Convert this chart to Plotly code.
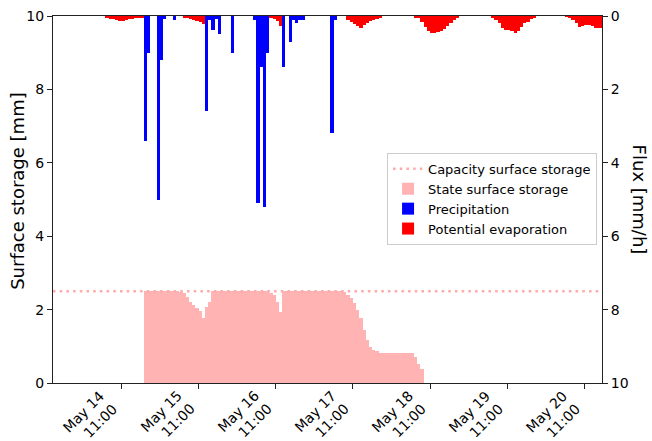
import pandas as pd
import plotly.graph_objects as go

# ---------------- data (hourly, starting 2019-05-13 14:00) ----------------
start_time = "2019-05-13 14:00"

# Precipitation [mm/h]
precip = [
    # May 13 14:00-23:00
    0, 0, 0, 0, 0, 0, 0, 0, 0, 0,
    # May 14
    0, 0, 0, 0, 0, 0, 0, 0, 0, 0, 0, 0,
    0, 0, 0, 0, 0, 0, 3.4, 1.0, 0, 0, 5.0, 1.2,
    # May 15
    0.08, 0, 0, 0.1, 0, 0, 0, 0, 0, 0, 0, 0,
    0, 2.6, 0.1, 0.38, 0.08, 0.49, 0, 0, 0, 1.0, 0, 0,
    # May 16
    0, 0, 0, 0, 0.1, 5.1, 1.4, 5.2, 1.0, 0, 0, 0,
    0, 1.4, 0, 0.7, 0.1, 0.2, 0.1, 0.1, 0, 0, 0, 0,
    # May 17
    0, 0, 0, 0, 3.2, 0.1, 0, 0, 0, 0, 0, 0,
    0, 0, 0, 0, 0, 0, 0, 0, 0, 0, 0, 0,
    # May 18
    0, 0, 0, 0, 0, 0, 0, 0, 0, 0, 0, 0,
    0, 0, 0, 0, 0, 0, 0, 0, 0, 0, 0, 0,
    # May 19
    0, 0, 0, 0, 0, 0, 0, 0, 0, 0, 0, 0,
    0, 0, 0, 0, 0, 0, 0, 0, 0, 0, 0, 0,
    # May 20 00:00-16:00
    0, 0, 0, 0, 0, 0, 0, 0, 0, 0, 0, 0,
    0, 0, 0, 0, 0,
]

# Potential evaporation [mm/h]
evap = [
    # May 13 14:00-23:00
    0, 0, 0, 0, 0, 0, 0, 0, 0, 0,
    # May 14
    0, 0, 0, 0, 0, 0, 0.04, 0.07, 0.08, 0.12, 0.13, 0.13,
    0.12, 0.09, 0.07, 0.05, 0.04, 0.03, 0, 0, 0, 0, 0, 0,
    # May 15
    0, 0, 0, 0, 0, 0, 0.03, 0.05, 0.07, 0.10, 0.13, 0.17,
    0.22, 0, 0, 0, 0, 0, 0, 0, 0, 0, 0, 0,
    # May 16
    0, 0, 0, 0, 0, 0, 0, 0, 0, 0.05, 0.08, 0.14,
    0.27, 0, 0, 0, 0, 0, 0, 0, 0, 0, 0, 0,
    # May 17
    0, 0, 0, 0, 0, 0, 0, 0, 0, 0.10, 0.15, 0.22,
    0.26, 0.34, 0.25, 0.19, 0.14, 0.10, 0.07, 0.04, 0, 0, 0, 0,
    # May 18
    0, 0, 0, 0, 0, 0, 0.04, 0.06, 0.15, 0.30, 0.42, 0.45,
    0.45, 0.44, 0.40, 0.36, 0.27, 0.18, 0.10, 0.04, 0, 0, 0, 0,
    # May 19
    0, 0, 0, 0, 0, 0, 0.05, 0.12, 0.20, 0.33, 0.38, 0.39,
    0.41, 0.45, 0.42, 0.30, 0.20, 0.15, 0.07, 0.03, 0, 0, 0, 0,
    # May 20 00:00-16:00
    0, 0, 0, 0, 0, 0.02, 0.05, 0.12, 0.20, 0.31, 0.27, 0.25,
    0.24, 0.28, 0.33, 0.34, 0.33,
]

# State surface storage [mm]
storage = [
    # May 13 14:00-23:00
    0, 0, 0, 0, 0, 0, 0, 0, 0, 0,
    # May 14
    0, 0, 0, 0, 0, 0, 0, 0, 0, 0, 0, 0,
    0, 0, 0, 0, 0, 0, 2.5, 2.5, 2.5, 2.5, 2.5, 2.5,
    # May 15
    2.5, 2.5, 2.5, 2.5, 2.5, 2.47, 2.44, 2.35, 2.22, 2.13, 2.04, 1.95,
    1.76, 2.08, 2.22, 2.5, 2.5, 2.5, 2.5, 2.5, 2.5, 2.5, 2.5, 2.5,
    # May 16
    2.5, 2.5, 2.5, 2.5, 2.5, 2.5, 2.5, 2.5, 2.5, 2.46, 2.40, 2.22,
    1.93, 2.5, 2.5, 2.5, 2.5, 2.5, 2.5, 2.5, 2.5, 2.5, 2.5, 2.5,
    # May 17
    2.5, 2.5, 2.5, 2.5, 2.5, 2.5, 2.5, 2.5, 2.48, 2.40, 2.31, 2.17,
    1.99, 1.76, 1.44, 1.17, 0.99, 0.90, 0.86, 0.83, 0.83, 0.83, 0.83, 0.83,
    # May 18
    0.83, 0.83, 0.83, 0.83, 0.83, 0.83, 0.70, 0.53, 0.37, 0, 0, 0,
    0, 0, 0, 0, 0, 0, 0, 0, 0, 0, 0, 0,
    # May 19
    0, 0, 0, 0, 0, 0, 0, 0, 0, 0, 0, 0,
    0, 0, 0, 0, 0, 0, 0, 0, 0, 0, 0, 0,
    # May 20 00:00-16:00
    0, 0, 0, 0, 0, 0, 0, 0, 0, 0, 0, 0,
    0, 0, 0, 0, 0,
]

capacity = 2.5

tick_times = ["2019-05-14 11:00", "2019-05-15 11:00", "2019-05-16 11:00",
              "2019-05-17 11:00", "2019-05-18 11:00", "2019-05-19 11:00",
              "2019-05-20 11:00"]
tick_labels = ["May 14<br>11:00", "May 15<br>11:00", "May 16<br>11:00",
               "May 17<br>11:00", "May 18<br>11:00", "May 19<br>11:00",
               "May 20<br>11:00"]

# ---------------- figure ----------------
times = pd.date_range(start_time, periods=len(precip), freq="h")
tick_dt = pd.to_datetime(tick_times)
hour_ms = 3600 * 1000
x_lo = times[0] - pd.Timedelta(minutes=18)
x_hi = times[-1] + pd.Timedelta(minutes=30)

FONT = "DejaVu Sans"
PINK = "rgb(255,179,179)"

fig = go.Figure()

fig.add_trace(go.Bar(
    x=times, y=storage, width=hour_ms, offset=0,
    marker=dict(color=PINK, line=dict(width=0)),
    name="State surface storage", yaxis="y", legendrank=2,
))
fig.add_trace(go.Scatter(
    x=[x_lo, x_hi], y=[capacity, capacity], mode="lines",
    line=dict(color="rgb(255,170,170)", width=2.5, dash="2.5px,4.2px"),
    name="Capacity surface storage", yaxis="y", legendrank=1,
))
fig.add_trace(go.Bar(
    x=times, y=evap, width=hour_ms, offset=0,
    marker=dict(color="rgb(255,0,0)", line=dict(width=0)),
    name="Potential evaporation", yaxis="y2", legendrank=4,
))
fig.add_trace(go.Bar(
    x=times, y=precip, width=hour_ms, offset=0,
    marker=dict(color="rgb(0,0,255)", line=dict(width=0)),
    name="Precipitation", yaxis="y2", legendrank=3,
))

axis_common = dict(
    showgrid=False, zeroline=False, showline=True, linecolor="#222",
    linewidth=1, ticks="outside", ticklen=5, tickwidth=1, tickcolor="#222",
    tickfont=dict(family=FONT, size=14, color="#000"), automargin=False,
)

# rotated date labels (right/top aligned at each tick, like matplotlib)
tick_annotations = [
    dict(text=lab, x=t, xref="x", y=-0.009, yref="paper",
         xanchor="right", yanchor="top", textangle=-45, align="right",
         showarrow=False, borderpad=0,
         font=dict(family=FONT, size=14, color="#000"))
    for t, lab in zip(tick_dt, tick_labels)
]

fig.update_layout(
    width=652, height=441,
    margin=dict(l=53, r=50, t=16, b=58, autoexpand=False),
    paper_bgcolor="white", plot_bgcolor="white",
    barmode="overlay", bargap=0,
    font=dict(family=FONT, size=14, color="#000"),
    xaxis=dict(
        **axis_common, type="date", range=[x_lo, x_hi], mirror=True,
        tickvals=tick_dt, showticklabels=False,
    ),
    yaxis=dict(**axis_common, range=[0, 10], dtick=2, side="left"),
    yaxis2=dict(**axis_common, range=[10, 0], dtick=2, side="right",
                overlaying="y"),
    legend=dict(
        x=0.991, xanchor="right", y=0.627, yanchor="top",
        bgcolor="rgba(255,255,255,0.8)", bordercolor="#cccccc", borderwidth=1,
        font=dict(family=FONT, size=13, color="#000"),
        traceorder="normal", itemwidth=30, tracegroupgap=0,
    ),
    annotations=tick_annotations + [
        dict(text="Surface storage [mm]", xref="paper", yref="paper",
             x=-0.066, y=0.523, xanchor="center", yanchor="middle",
             textangle=-90, showarrow=False,
             font=dict(family=FONT, size=18, color="#000")),
        dict(text="Flux [mm/h]", xref="paper", yref="paper",
             x=1.069, y=0.50, xanchor="center", yanchor="middle",
             textangle=90, showarrow=False,
             font=dict(family=FONT, size=18, color="#000")),
    ],
)

fig.write_html("out.html")
